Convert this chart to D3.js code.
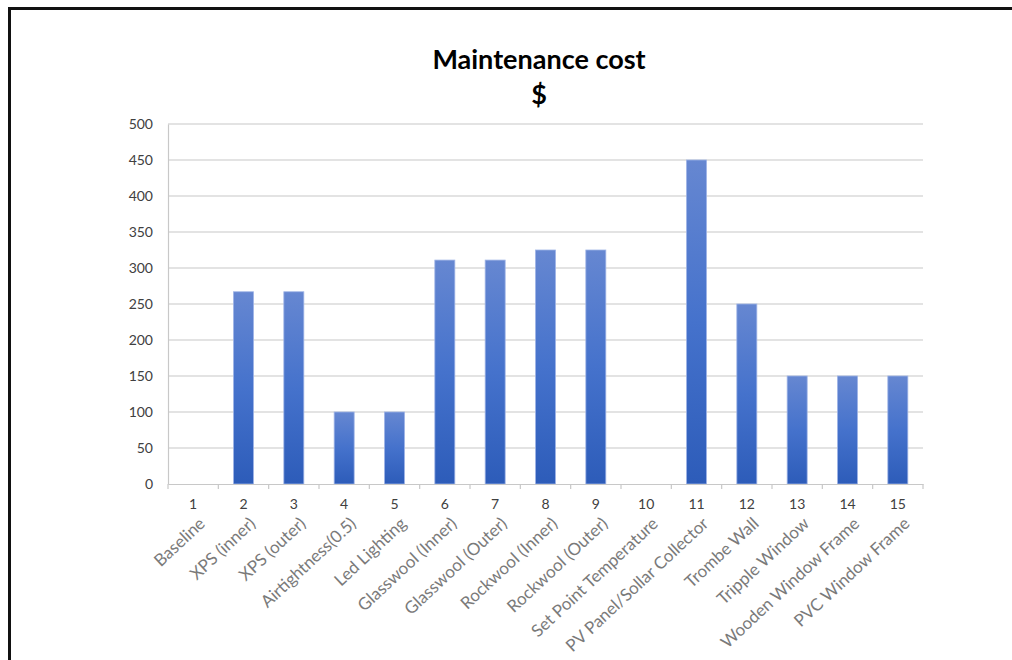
<!DOCTYPE html>
<html>
<head>
<meta charset="utf-8">
<title>Maintenance cost</title>
<script src="https://d3js.org/d3.v7.min.js"></script>
<style>
  body { margin: 0; background: #fff; }
  #frame {
    position: absolute; left: 8px; top: 7px; width: 1010px; height: 660px;
    border-left: 3px solid #111; border-top: 3px solid #111;
  }
  svg { position: absolute; left: 0; top: 0; }
</style>
</head>
<body>
<div id="frame"></div>
<div id="chart"></div>
<script>
// data
var numbers = ["1","2","3","4","5","6","7","8","9","10","11","12","13","14","15"];
var names = ["Baseline", "XPS (inner)", "XPS (outer)", "Airtightness(0.5)", "Led Lighting",
  "Glasswool (Inner)", "Glasswool (Outer)", "Rockwool (Inner)", "Rockwool (Outer)",
  "Set Point Temperature", "PV Panel/Sollar Collector", "Trombe Wall", "Tripple Window",
  "Wooden Window Frame", "PVC Window Frame"];
var cost = [0, 267, 267, 100, 100, 311, 311, 325, 325, 0, 450, 250, 150, 150, 150];
var yTicks = [0, 50, 100, 150, 200, 250, 300, 350, 400, 450, 500];

var W = 1012, H = 660;
var plotL = 168, plotR = 923, plotT = 124, plotB = 484;
var labelFont = "Lato, 'Open Sans', sans-serif";

var svg = d3.select("#chart").append("svg").attr("width", W).attr("height", H);

var defs = svg.append("defs");
var grad = defs.append("linearGradient").attr("id", "barGrad")
  .attr("x1", 0).attr("y1", 0).attr("x2", 0).attr("y2", 1);
grad.append("stop").attr("offset", "0%").attr("stop-color", "#6687d1");
grad.append("stop").attr("offset", "50%").attr("stop-color", "#4572cc");
grad.append("stop").attr("offset", "100%").attr("stop-color", "#2d5cb9");

var x = d3.scaleBand().domain(numbers).range([plotL, plotR]).padding(0);
var y = d3.scaleLinear().domain([0, 500]).range([plotB, plotT]);

// title
svg.append("text").attr("x", 539).attr("y", 69).attr("text-anchor", "middle")
  .attr("font-family", "Lato, sans-serif").attr("font-weight", "bold")
  .attr("font-size", 27).attr("fill", "#000").text("Maintenance cost");
svg.append("text").attr("x", 539).attr("y", 104).attr("text-anchor", "middle")
  .attr("font-family", "Lato, sans-serif").attr("font-weight", "bold")
  .attr("font-size", 27).attr("fill", "#000").text("$");

// gridlines
svg.append("g").selectAll("line").data(yTicks.filter(function(d) { return d > 0; }))
  .enter().append("line")
  .attr("x1", plotL).attr("x2", plotR)
  .attr("y1", function(d) { return y(d); }).attr("y2", function(d) { return y(d); })
  .attr("stroke", "#c8c8c8").attr("stroke-width", 1.2);

// y axis
var yAxis = d3.axisLeft(y).tickValues(yTicks).tickSize(0).tickPadding(15);
var gy = svg.append("g").attr("transform", "translate(" + plotL + ",0)").call(yAxis);
gy.select(".domain").attr("stroke", "#c8c8c8").attr("stroke-width", 1.2);
gy.selectAll("text").attr("font-family", labelFont)
  .attr("font-size", 14).attr("fill", "#404040");

// bars
svg.append("g").selectAll("rect").data(cost).enter().append("rect")
  .attr("x", function(d, i) { return x(numbers[i]) + x.bandwidth() / 2 - 10; })
  .attr("y", function(d) { return y(d); })
  .attr("width", 20)
  .attr("height", function(d) { return plotB - y(d); })
  .attr("fill", "url(#barGrad)")
  .attr("stroke", "#9fb4e6").attr("stroke-width", function(d) { return d > 0 ? 0.8 : 0; });

// x axis
var xAxis = d3.axisBottom(x).tickSize(0).tickPadding(15);
var gx = svg.append("g").attr("transform", "translate(0," + plotB + ")").call(xAxis);
gx.select(".domain").attr("stroke", "#c8c8c8").attr("stroke-width", 1.2);
gx.selectAll("text").attr("font-family", labelFont)
  .attr("font-size", 14).attr("fill", "#404040");
// tick marks between categories
svg.append("g").selectAll("line").data(d3.range(numbers.length + 1)).enter().append("line")
  .attr("x1", function(i) { return plotL + i * x.step(); })
  .attr("x2", function(i) { return plotL + i * x.step(); })
  .attr("y1", plotB).attr("y2", plotB + 5)
  .attr("stroke", "#c8c8c8").attr("stroke-width", 1.2);

// rotated category names
svg.append("g").selectAll("text").data(names).enter().append("text")
  .attr("transform", function(d, i) {
    var cx = x(numbers[i]) + x.bandwidth() / 2 + 13;
    return "translate(" + cx + "," + 525 + ") rotate(-43)";
  })
  .attr("text-anchor", "end")
  .attr("font-family", labelFont)
  .attr("font-size", 17).attr("fill", "#7a7a7a")
  .text(function(d) { return d; });
</script>
</body>
</html>
